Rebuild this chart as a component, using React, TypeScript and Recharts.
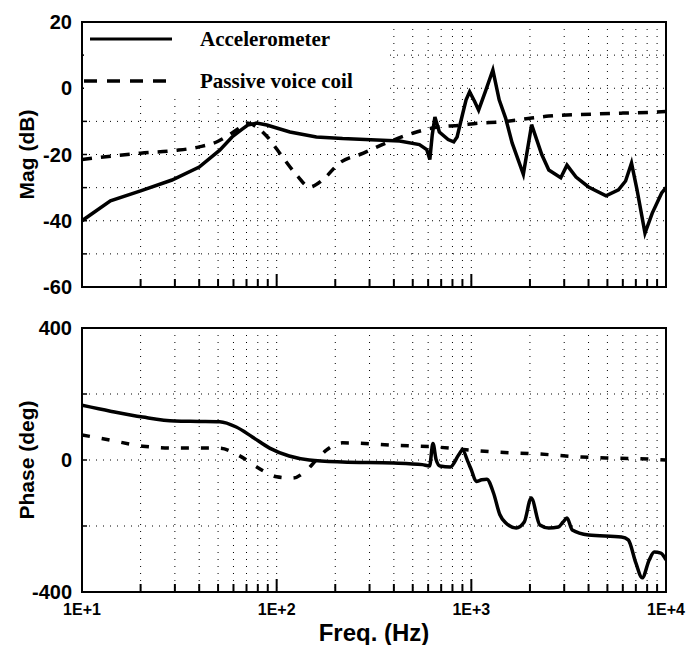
import {
  LineChart,
  Line,
  XAxis,
  YAxis,
  CartesianGrid,
  ReferenceArea,
  Legend,
  Label,
} from 'recharts';

// x axis: log frequency, grid at every 1..9 x decade
const freqTicks = [
  10, 20, 30, 40, 50, 60, 70, 80, 90,
  100, 200, 300, 400, 500, 600, 700, 800, 900,
  1000, 2000, 3000, 4000, 5000, 6000, 7000, 8000, 9000,
  10000,
];
const decadeLabels: Record<number, string> = {
  10: '1E+1',
  100: '1E+2',
  1000: '1E+3',
  10000: '1E+4',
};

const magTicks = [-60, -50, -40, -30, -20, -10, 0, 10, 20];
const magLabelled = [-60, -40, -20, 0, 20];
const phaseTicks = [-400, -200, 0, 200, 400];
const phaseLabelled = [-400, 0, 400];

// Accelerometer magnitude (dB)
const accelMagFreq = [
  10, 14, 20, 29, 40, 51, 59, 66, 71, 79, 89, 100, 117, 160, 218, 326, 428, 541,
  590, 612, 630, 650, 685, 760, 812, 845, 900, 940, 980, 1040, 1090, 1180, 1290,
  1390, 1500, 1620, 1850, 2040, 2300, 2500, 2880, 3100, 3450, 4000, 4920, 5700,
  6200, 6650, 7100, 7800, 8500, 9500, 10000,
];
const accelMag = [
  -40, -34, -31, -27.7, -23.8, -18.7, -14.7, -12.5, -11.1, -10.5, -11.1, -12,
  -13.2, -14.7, -15.2, -15.6, -15.9, -17, -18.5, -21.5, -14, -8.7, -13.2, -15.5,
  -16.2, -14.7, -8, -3.5, -1.1, -4, -6.6, -1, 5.5, -3.5, -9, -16.5, -26, -11, -20,
  -24.7, -27, -23.2, -26.8, -29.8, -32.5, -30.7, -28, -22.6, -30.7, -43.7, -37.7,
  -31.6, -30,
];

// Passive voice coil magnitude (dB)
const voiceMagFreq = [
  10, 20, 30, 40, 50, 59, 65, 70, 78, 89, 107, 128, 147, 172, 210, 279, 366, 504,
  660, 870, 1100, 1400, 2040, 2500, 4200, 6000, 8900, 10000,
];
const voiceMag = [
  -21.5, -19.6, -18.8, -17.7, -16, -13.5, -11.8, -10.5, -11.5, -14.5, -20.7,
  -26.5, -29.8, -27.7, -22.6, -19.6, -16.5, -13.5, -11.8, -11.2, -10.5, -10.2, -9,
  -8.4, -7.8, -7.5, -7.2, -7,
];

// Accelerometer phase (deg)
const accelPhFreq = [
  10, 14, 20.5, 30, 40, 51, 62, 75, 92, 116, 147, 218, 398, 560, 610, 635, 660,
  690, 780, 860, 900, 960, 1000, 1060, 1130, 1200, 1300, 1400, 1500, 1700, 1870,
  2030, 2250, 2500, 2800, 2960, 3100, 3300, 4000, 5900, 6400, 7000, 7550, 8200,
  8700, 9400, 10000,
];
const accelPh = [
  166, 148, 130, 118, 117, 116, 100, 70, 36, 12, 0, -6, -9, -14, -18, 50, 0, -18,
  -21, 15, 30, -5, -30, -65, -60, -58, -100, -165, -190, -206, -188, -115, -197,
  -206, -203, -188, -176, -212, -227, -233, -242, -312, -357, -303, -279, -282,
  -303,
];

// Passive voice coil phase (deg)
const voicePhFreq = [
  10, 14, 20.5, 30, 51, 62, 70, 79, 90, 100, 121, 140, 160, 180, 218, 398, 637,
  988, 1350, 2250, 3700, 4920, 8200, 10000,
];
const voicePh = [
  76, 60, 42, 36, 36, 18, 0, -21, -40, -51, -55, -35, 0, 30, 52, 45, 40, 30, 24,
  18, 9, 6, 3, 0,
];

const toPoints = (f: number[], v: number[]) => f.map((x, i) => ({ f: x, v: v[i] }));

const SANS = '"Liberation Sans", Arial, sans-serif';
const SERIF = '"Liberation Serif", "Times New Roman", serif';

function yTitle(text: string) {
  return (props: any) => {
    const vb = props.viewBox ?? { x: 0, y: 0, width: 82, height: 0 };
    const cx = 26;
    const cy = vb.y + vb.height / 2;
    return (
      <text
        x={cx}
        y={cy}
        transform={`rotate(-90 ${cx} ${cy})`}
        textAnchor="middle"
        dominantBaseline="central"
        fontFamily={SANS}
        fontWeight="bold"
        fontSize={21}
        fill="#000"
      >
        {text}
      </text>
    );
  };
}

// inward tick marks on the bottom edge (longer at decades), label only on the lower panel
const X_MARGIN = 12;
const renderXTickLower = (props: any) => {
  const { x, y, payload } = props;
  const lab = decadeLabels[payload.value];
  return (
    <g>
      <line x1={x} x2={x} y1={y - X_MARGIN} y2={y - X_MARGIN - (lab ? 13 : 8)} stroke="#000" strokeWidth={2} />
      {lab ? (
        <text
          x={x}
          y={y}
          dy="0.71em"
          textAnchor="middle"
          fontFamily={SANS}
          fontWeight="bold"
          fontSize={16}
          fill="#000"
        >
          {lab}
        </text>
      ) : null}
    </g>
  );
};
const renderXTickUpper = (props: any) => {
  const { x, y, payload } = props;
  const lab = decadeLabels[payload.value];
  return (
    <g>
      <line x1={x} x2={x} y1={y - X_MARGIN} y2={y - X_MARGIN - (lab ? 13 : 8)} stroke="#000" strokeWidth={2} />
    </g>
  );
};

// small inward ticks on the left edge, labels at every other value
const Y_MARGIN = 10;
function yTick(labelled: number[]) {
  return (props: any) => {
    const { x, y, payload } = props;
    const edge = x + Y_MARGIN;
    return (
      <g>
        <line x1={edge} x2={edge + 5} y1={y} y2={y} stroke="#000" strokeWidth={1.5} />
        {labelled.includes(payload.value) ? (
          <text
            x={x}
            y={y}
            dy="0.355em"
            textAnchor="end"
            fontFamily={SANS}
            fontWeight="bold"
            fontSize={20}
            fill="#000"
          >
            {payload.value}
          </text>
        ) : null}
      </g>
    );
  };
}

function LegendBox() {
  return (
    <div style={{ width: 300, height: 70, background: '#fff' }}>
      <svg width={300} height={70} style={{ display: 'block' }}>
        <line x1={6} x2={88} y1={15} y2={15} stroke="#000" strokeWidth={3} />
        <text
          x={116}
          y={15}
          dominantBaseline="central"
          fontFamily={SERIF}
          fontWeight="bold"
          fontSize={21}
        >
          Accelerometer
        </text>
        <line
          x1={0}
          x2={82}
          y1={57}
          y2={57}
          stroke="#000"
          strokeWidth={3.5}
          strokeDasharray="13 10"
        />
        <text
          x={116}
          y={57}
          dominantBaseline="central"
          fontFamily={SERIF}
          fontWeight="bold"
          fontSize={21}
        >
          Passive voice coil
        </text>
      </svg>
    </div>
  );
}

export default function App() {
  const accelMagData = toPoints(accelMagFreq, accelMag);
  const voiceMagData = toPoints(voiceMagFreq, voiceMag);
  const accelPhData = toPoints(accelPhFreq, accelPh);
  const voicePhData = toPoints(voicePhFreq, voicePh);

  return (
    <div
      style={{
        position: 'absolute',
        left: 0,
        top: 0,
        width: 688,
        height: 645,
        background: '#fff',
        fontFamily: SANS,
      }}
    >
      {/* magnitude */}
      <div style={{ position: 'absolute', left: 0, top: 0 }}>
        <LineChart width={688} height={300} margin={{ top: 22, right: 22, bottom: 0, left: 0 }}>
          <CartesianGrid stroke="#000" strokeDasharray="1 6" />
          <XAxis
            dataKey="f"
            type="number"
            scale="log"
            domain={[10, 10000]}
            ticks={freqTicks}
            allowDataOverflow
            interval={0}
            height={13}
            axisLine={false}
            tickLine={false}
            tickSize={0}
            tickMargin={X_MARGIN}
            tick={renderXTickUpper}
          />
          <YAxis
            type="number"
            domain={[-60, 20]}
            ticks={magTicks}
            interval={0}
            width={82}
            axisLine={false}
            tickLine={false}
            tickSize={0}
            tickMargin={Y_MARGIN}
            tick={yTick(magLabelled)}
          >
            <Label content={yTitle('Mag (dB)')} />
          </YAxis>
          <ReferenceArea
            x1={10}
            x2={10000}
            y1={-60}
            y2={20}
            fill="none"
            stroke="#000"
            strokeWidth={2}
            ifOverflow="visible"
          />
          <Legend
            layout="horizontal"
            verticalAlign="middle"
            align="center"
            content={() => <LegendBox />}
            wrapperStyle={{ left: 84, top: 24, width: 300, height: 70 }}
          />
          <Line
            data={accelMagData}
            dataKey="v"
            type="linear"
            stroke="#000"
            strokeWidth={3.5}
            dot={false}
            isAnimationActive={false}
          />
          <Line
            data={voiceMagData}
            dataKey="v"
            type="monotone"
            stroke="#000"
            strokeWidth={3.5}
            strokeDasharray="10 9"
            dot={false}
            isAnimationActive={false}
          />
        </LineChart>
      </div>

      {/* phase */}
      <div style={{ position: 'absolute', left: 0, top: 300 }}>
        <LineChart width={688} height={345} margin={{ top: 28, right: 22, bottom: 0, left: 0 }}>
          <CartesianGrid stroke="#000" strokeDasharray="1 6" />
          <XAxis
            dataKey="f"
            type="number"
            scale="log"
            domain={[10, 10000]}
            ticks={freqTicks}
            allowDataOverflow
            interval={0}
            height={53}
            axisLine={false}
            tickLine={false}
            tickSize={0}
            tickMargin={X_MARGIN}
            tick={renderXTickLower}
          >
            <Label
              value="Freq. (Hz)"
              position="insideBottom"
              offset={4}
              fill="#000"
              fontSize={24}
              fontWeight="bold"
              fontFamily={SANS}
            />
          </XAxis>
          <YAxis
            type="number"
            domain={[-400, 400]}
            ticks={phaseTicks}
            interval={0}
            width={82}
            axisLine={false}
            tickLine={false}
            tickSize={0}
            tickMargin={Y_MARGIN}
            tick={yTick(phaseLabelled)}
          >
            <Label content={yTitle('Phase (deg)')} />
          </YAxis>
          <ReferenceArea
            x1={10}
            x2={10000}
            y1={-400}
            y2={400}
            fill="none"
            stroke="#000"
            strokeWidth={2}
            ifOverflow="visible"
          />
          <Line
            data={accelPhData}
            dataKey="v"
            type="monotone"
            stroke="#000"
            strokeWidth={3.5}
            dot={false}
            isAnimationActive={false}
          />
          <Line
            data={voicePhData}
            dataKey="v"
            type="monotone"
            stroke="#000"
            strokeWidth={3.5}
            strokeDasharray="8 12"
            dot={false}
            isAnimationActive={false}
          />
        </LineChart>
      </div>
    </div>
  );
}
